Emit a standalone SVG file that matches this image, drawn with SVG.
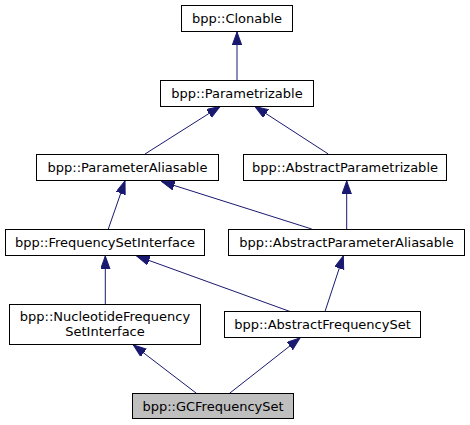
<svg xmlns="http://www.w3.org/2000/svg" width="470" height="425" viewBox="0 0 470 425">
<style>
.n rect{fill:#ffffff;stroke:#000000;stroke-width:1}
.n text{font-family:"DejaVu Sans","Liberation Sans",sans-serif;font-size:13px;fill:#000000;text-anchor:middle}
#gc rect{fill:#bfbfbf}
.e line{stroke:#191970;stroke-width:1;fill:none;marker-end:url(#ah)}
</style>
<defs>
<marker id="ah" markerUnits="userSpaceOnUse" markerWidth="14" markerHeight="11" refX="13" refY="4.7" orient="auto" viewBox="0 0 14 11">
<path d="M0,0 L13,4.7 L0,9.4 z" fill="#191970" stroke="#191970" stroke-width="1"/>
</marker>
</defs>
<rect width="470" height="425" fill="#ffffff"/>
<g id="edges" class="e">
<line x1="237" y1="80" x2="237" y2="32"/>
<line x1="145" y1="154" x2="220" y2="106.5"/>
<line x1="328.3" y1="154" x2="255" y2="106.5"/>
<line x1="108.3" y1="229" x2="125" y2="181"/>
<line x1="311.7" y1="229" x2="161.7" y2="181.5"/>
<line x1="346.7" y1="229" x2="346.7" y2="181"/>
<line x1="105.3" y1="304" x2="105.3" y2="256"/>
<line x1="290" y1="311.5" x2="136.7" y2="256"/>
<line x1="325" y1="311.5" x2="343.3" y2="256"/>
<line x1="196.7" y1="393.5" x2="133.3" y2="345"/>
<line x1="229.3" y1="393.5" x2="300" y2="338"/>
</g>
<g id="clonable" class="n"><rect x="181.5" y="5.5" width="111" height="26"/><text x="237" y="23">bpp::Clonable</text></g>
<g id="parametrizable" class="n"><rect x="160.5" y="80.5" width="153" height="26"/><text x="237" y="98">bpp::Parametrizable</text></g>
<g id="parameterAliasable" class="n"><rect x="36.5" y="154.5" width="182" height="26"/><text x="127.5" y="172">bpp::ParameterAliasable</text></g>
<g id="abstractParametrizable" class="n"><rect x="243.5" y="154.5" width="203" height="26"/><text x="345" y="172">bpp::AbstractParametrizable</text></g>
<g id="frequencySetInterface" class="n"><rect x="5.5" y="229.5" width="199" height="26"/><text x="105" y="247">bpp::FrequencySetInterface</text></g>
<g id="abstractParameterAliasable" class="n"><rect x="228.5" y="229.5" width="236" height="26"/><text x="346.5" y="247">bpp::AbstractParameterAliasable</text></g>
<g id="nucleotideFrequencySetInterface" class="n"><rect x="9.5" y="304.5" width="191" height="40"/><text x="105" y="320.5">bpp::NucleotideFrequency</text><text x="105" y="335.5">SetInterface</text></g>
<g id="abstractFrequencySet" class="n"><rect x="224.5" y="311.5" width="196" height="26"/><text x="322.5" y="329">bpp::AbstractFrequencySet</text></g>
<g id="gc" class="n"><rect x="132.5" y="393.5" width="161" height="25"/><text x="213" y="411">bpp::GCFrequencySet</text></g>
</svg>
